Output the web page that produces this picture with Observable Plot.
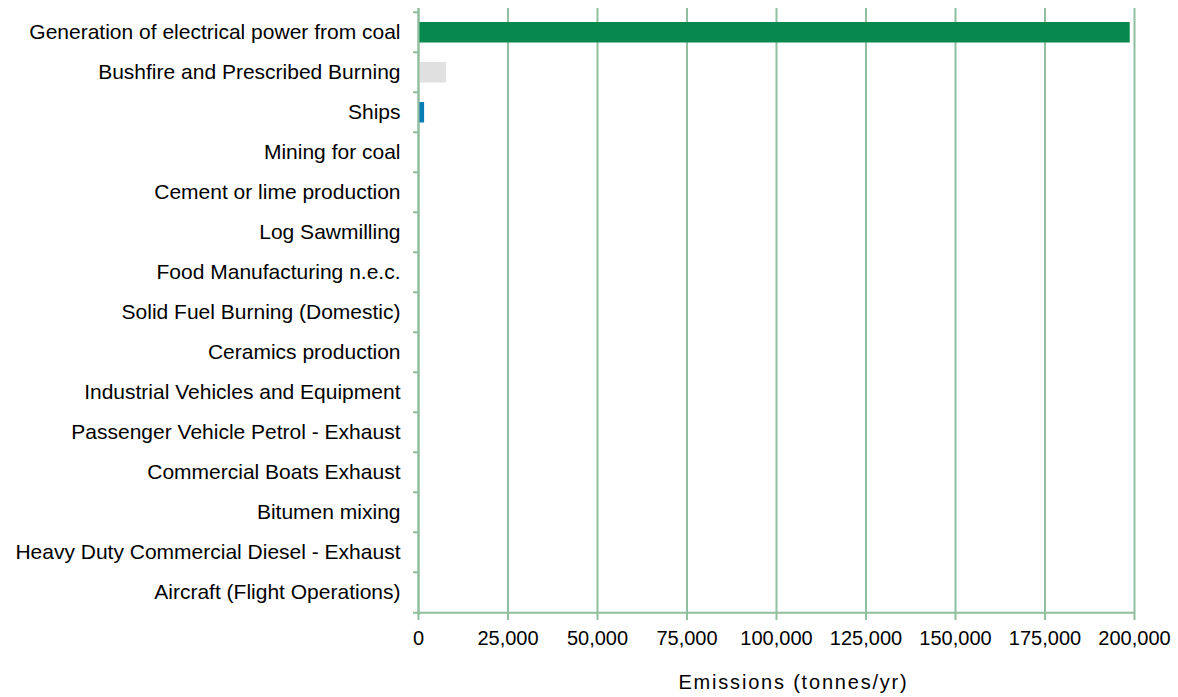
<!DOCTYPE html>
<html>
<head>
<meta charset="utf-8">
<script src="https://cdn.jsdelivr.net/npm/d3@7"></script>
<script src="https://cdn.jsdelivr.net/npm/@observablehq/plot@0.6"></script>
<style>
  html, body { margin: 0; padding: 0; background: #fff; }
  #chart svg { display: block; font-family: Arial, "Liberation Sans", sans-serif; }
</style>
</head>
<body>
<div id="chart"></div>
<script>
const sources = [
  "Generation of electrical power from coal",
  "Bushfire and Prescribed Burning",
  "Ships",
  "Mining for coal",
  "Cement or lime production",
  "Log Sawmilling",
  "Food Manufacturing n.e.c.",
  "Solid Fuel Burning (Domestic)",
  "Ceramics production",
  "Industrial Vehicles and Equipment",
  "Passenger Vehicle Petrol - Exhaust",
  "Commercial Boats Exhaust",
  "Bitumen mixing",
  "Heavy Duty Commercial Diesel - Exhaust",
  "Aircraft (Flight Operations)"
];
const emissions = [198800, 7800, 1700, 300, 120, 80, 60, 50, 40, 30, 25, 20, 15, 10, 8];
const barColors = ["#07884f", "#dfe0df", "#0b7db5", "#8fbf9f", "#8fbf9f", "#8fbf9f", "#8fbf9f", "#8fbf9f", "#8fbf9f", "#8fbf9f", "#8fbf9f", "#8fbf9f", "#8fbf9f", "#8fbf9f", "#8fbf9f"];
const xTicks = [0, 25000, 50000, 75000, 100000, 125000, 150000, 175000, 200000];
const xLabel = "Emissions (tonnes/yr)";

const data = sources.map((s, i) => ({source: s, value: emissions[i], color: barColors[i]}));

const gridColor = "#8fbf9f";
const W = 1178, H = 697;
const mL = 418, mR = 44, mT = 8, mB = 82;
const step = (H - mT - mB) / sources.length;
const tickData = (5 / (W - mL - mR)) * 200000;

const chart = Plot.plot({
  width: W,
  height: H,
  marginLeft: mL,
  marginRight: mR,
  marginTop: mT,
  marginBottom: mB,
  style: {fontSize: "20px", fontFamily: "Arial, 'Liberation Sans', sans-serif", color: "#000", background: "#fff"},
  x: {domain: [0, 200000]},
  y: {domain: sources, padding: 0},
  marks: [
    Plot.gridX(xTicks, {stroke: gridColor, strokeOpacity: 1, strokeWidth: 2}),
    Plot.barX(data, {x: "value", y: "source", fill: "color", insetTop: 10, insetBottom: 9.5}),
    Plot.ruleX([0], {stroke: gridColor, strokeWidth: 2}),
    Plot.ruleY(sources, {y: d => d, dy: -step / 2, x1: -tickData, x2: 0, stroke: gridColor, strokeWidth: 2, clip: false}),
    Plot.ruleY([sources[sources.length - 1]], {y: d => d, dy: step / 2, x1: -tickData, x2: 200000, stroke: gridColor, strokeWidth: 2, clip: false}),
    Plot.axisY({tickSize: 0, tickPadding: 18, label: null, fontSize: 21}),
    Plot.axisX(xTicks, {tickSize: 5, tickPadding: 10, stroke: gridColor, strokeWidth: 2, tickFormat: d3.format(","), label: null, fontSize: 20}),
    Plot.text([xLabel], {frameAnchor: "bottom", dx: 17, dy: 67, text: d => d, fontSize: 20, textAnchor: "middle", lineAnchor: "middle"})
  ]
});

d3.select(chart).selectAll("text").filter(function() { return this.textContent === xLabel; })
  .attr("letter-spacing", "1.8px");

document.getElementById("chart").appendChild(chart);
</script>
</body>
</html>
